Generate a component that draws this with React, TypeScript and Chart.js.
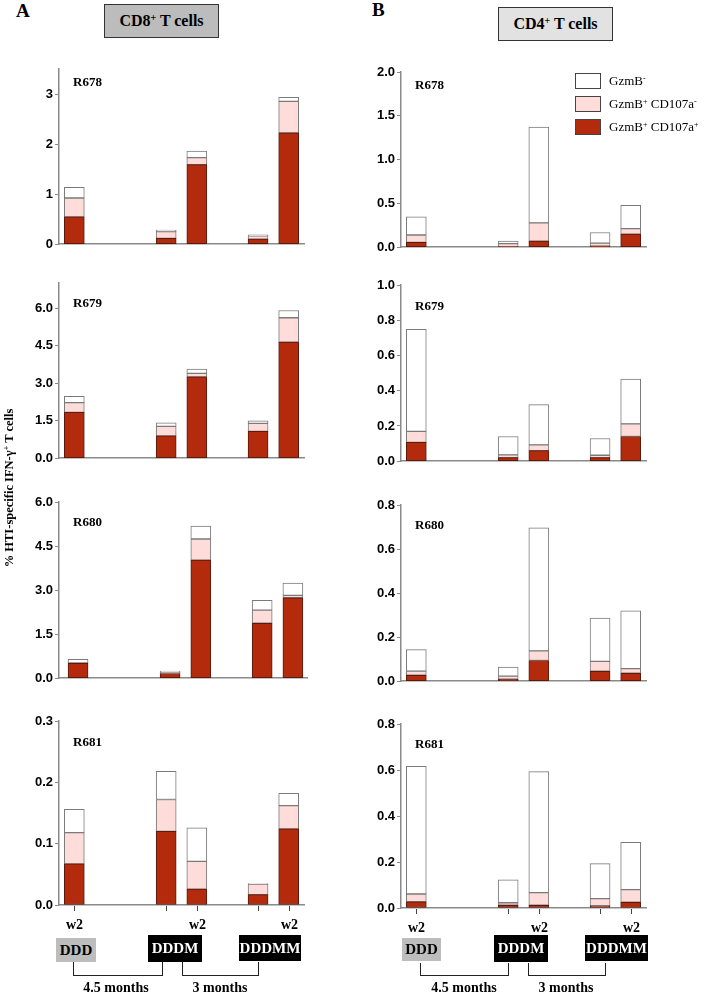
import React, { useEffect, useRef } from 'react';
import { Chart, registerables } from 'chart.js';
Chart.register(...registerables);

// ---------- data ----------
const slots = ['DDD w2', 'DDDM pre', 'DDDM w2', 'DDDMM pre', 'DDDMM w2'];
const slotX = [0, 3, 4, 6, 7];
const xTickLabels = ['w2', '', 'w2', '', 'w2'];
const seriesNames = ['GzmB+ CD107a+', 'GzmB+ CD107a-', 'GzmB-'];

// CD8+ T cells (panel A)
const cd8R678Pos = [0.545, 0.115, 1.59, 0.1, 2.224];
const cd8R678Mid = [0.378, 0.135, 0.14, 0.067, 0.629];
const cd8R678Neg = [0.212, 0.032, 0.13, 0.019, 0.083];
const cd8R679Pos = [1.83, 0.89, 3.25, 1.07, 4.64];
const cd8R679Mid = [0.39, 0.38, 0.14, 0.32, 0.97];
const cd8R679Neg = [0.25, 0.14, 0.17, 0.1, 0.29];
const cd8R680Pos = [0.51, 0.16, 4.02, 1.87, 2.74];
const cd8R680Mid = [0.02, 0.03, 0.72, 0.45, 0.08];
const cd8R680Neg = [0.11, 0.05, 0.44, 0.33, 0.42];
const cd8R681Pos = [0.067, 0.12, 0.026, 0.017, 0.124];
const cd8R681Mid = [0.051, 0.052, 0.045, 0.017, 0.038];
const cd8R681Neg = [0.038, 0.046, 0.055, 0.001, 0.02];

// CD4+ T cells (panel B)
const cd4R678Pos = [0.055, 0.005, 0.069, 0.012, 0.15];
const cd4R678Mid = [0.084, 0.035, 0.208, 0.035, 0.062];
const cd4R678Neg = [0.208, 0.03, 1.095, 0.121, 0.266];
const cd4R679Pos = [0.107, 0.02, 0.06, 0.02, 0.14];
const cd4R679Mid = [0.062, 0.016, 0.033, 0.014, 0.072];
const cd4R679Neg = [0.579, 0.104, 0.228, 0.095, 0.254];
const cd4R680Pos = [0.027, 0.009, 0.094, 0.045, 0.036];
const cd4R680Mid = [0.019, 0.014, 0.044, 0.045, 0.021];
const cd4R680Neg = [0.097, 0.041, 0.558, 0.197, 0.263];
const cd4R681Pos = [0.027, 0.012, 0.012, 0.009, 0.025];
const cd4R681Mid = [0.034, 0.011, 0.055, 0.032, 0.055];
const cd4R681Neg = [0.555, 0.1, 0.526, 0.152, 0.206];

// y tick values
const ticksCd8R678 = [0, 1, 2, 3];
const ticksCd8R679 = [0, 1.5, 3, 4.5, 6];
const ticksCd8R680 = [0, 1.5, 3, 4.5, 6];
const ticksCd8R681 = [0, 0.1, 0.2, 0.3];
const ticksCd4R678 = [0, 0.5, 1, 1.5, 2];
const ticksCd4R679 = [0, 0.2, 0.4, 0.6, 0.8, 1];
const ticksCd4R680 = [0, 0.2, 0.4, 0.6, 0.8];
const ticksCd4R681 = [0, 0.2, 0.4, 0.6, 0.8];

// ---------- styles ----------
const RED = '#b42a0c';
const RED_EDGE = '#5a1a0c';
const PINK = '#fddcda';
const WHITE = '#ffffff';
const EDGE = '#7a7a7a';
const AXIS = '#8a8a8a';
const SERIF = "'Liberation Serif', 'Times New Roman', serif";
const SANS = "'Liberation Sans', Arial, sans-serif";

type PanelSpec = {
  key: string; label: string; pos: number[]; mid: number[]; neg: number[];
  ticks: number[]; max: number; dec: number;
  left: number; right: number; top: number; bottom: number;
  xmin?: number; xmax?: number; bottomRow?: boolean; labelX: number; labelY: number;
};

const PANELS: PanelSpec[] = [
  { key: 'L1', label: 'R678', pos: cd8R678Pos, mid: cd8R678Mid, neg: cd8R678Neg, ticks: ticksCd8R678, max: 3.5, dec: 0, left: 59, right: 304, top: 69, bottom: 252, labelX: 73, labelY: 82 },
  { key: 'R1', label: 'R678', pos: cd4R678Pos, mid: cd4R678Mid, neg: cd4R678Neg, ticks: ticksCd4R678, max: 2, dec: 1, left: 401, right: 646, top: 72, bottom: 255, labelX: 415, labelY: 85 },
  { key: 'L2', label: 'R679', pos: cd8R679Pos, mid: cd8R679Mid, neg: cd8R679Neg, ticks: ticksCd8R679, max: 7, dec: 1, left: 59, right: 304, top: 283, bottom: 466, labelX: 73, labelY: 303 },
  { key: 'R2', label: 'R679', pos: cd4R679Pos, mid: cd4R679Mid, neg: cd4R679Neg, ticks: ticksCd4R679, max: 1, dec: 1, left: 401, right: 646, top: 285, bottom: 469, labelX: 415, labelY: 306 },
  { key: 'L3', label: 'R680', pos: cd8R680Pos, mid: cd8R680Mid, neg: cd8R680Neg, ticks: ticksCd8R680, max: 6, dec: 1, left: 59, right: 307, top: 502, bottom: 686, xmin: -0.62, xmax: 7.46, labelX: 73, labelY: 522 },
  { key: 'R3', label: 'R680', pos: cd4R680Pos, mid: cd4R680Mid, neg: cd4R680Neg, ticks: ticksCd4R680, max: 0.8, dec: 1, left: 401, right: 646, top: 505, bottom: 689, labelX: 415, labelY: 525 },
  { key: 'L4', label: 'R681', pos: cd8R681Pos, mid: cd8R681Mid, neg: cd8R681Neg, ticks: ticksCd8R681, max: 0.3, dec: 1, left: 59, right: 304, top: 721, bottom: 905, bottomRow: true, labelX: 73, labelY: 742 },
  { key: 'R4', label: 'R681', pos: cd4R681Pos, mid: cd4R681Mid, neg: cd4R681Neg, ticks: ticksCd4R681, max: 0.8, dec: 1, left: 401, right: 646, top: 724, bottom: 908, bottomRow: true, labelX: 415, labelY: 744 },
];

const W = 46, PT = 10, PR = 12;

function Panel({ p }: { p: PanelSpec }) {
  const ref = useRef<HTMLCanvasElement>(null);
  const XH = p.bottomRow ? 32 : 2;
  const cw = W + (p.right - p.left) + PR;
  const ch = PT + (p.bottom - p.top) + XH;
  useEffect(() => {
    const mk = (vals: number[], i: number, bg: string, edge: string) => ({
      label: seriesNames[i],
      data: slotX.map((x, k) => ({ x, y: vals[k] })),
      backgroundColor: bg,
      borderColor: edge,
      borderWidth: 1,
      borderSkipped: false as const,
      barThickness: 20,
    });
    // tick marks and "w2" labels under the bars, placed with the x scale
    const slotTicks = {
      id: 'slotTicks',
      afterDraw(chart: any) {
        if (!p.bottomRow) return;
        const { ctx } = chart;
        const xs = chart.scales.x;
        const y0 = chart.chartArea.bottom;
        ctx.save();
        ctx.strokeStyle = '#444';
        ctx.lineWidth = 1;
        slotX.forEach((v, i) => {
          const px = Math.round(xs.getPixelForValue(v)) + 0.5;
          ctx.beginPath();
          ctx.moveTo(px, y0 + 1);
          ctx.lineTo(px, y0 + 6);
          ctx.stroke();
          if (xTickLabels[i]) {
            ctx.fillStyle = '#000';
            ctx.font = `bold 14px ${SERIF}`;
            ctx.textAlign = 'center';
            ctx.textBaseline = 'middle';
            ctx.fillText(xTickLabels[i], px, y0 + 20);
          }
        });
        ctx.restore();
      },
    };
    const chart = new Chart(ref.current as HTMLCanvasElement, {
      type: 'bar',
      data: {
        labels: slots,
        datasets: [mk(p.pos, 0, RED, RED_EDGE), mk(p.mid, 1, PINK, EDGE), mk(p.neg, 2, WHITE, EDGE)] as any,
      },
      plugins: [slotTicks],
      options: {
        responsive: false,
        animation: false,
        layout: { padding: { top: PT, right: PR, left: 0, bottom: 0 } },
        plugins: { legend: { display: false }, tooltip: { enabled: false } },
        scales: {
          x: {
            type: 'linear',
            stacked: true,
            offset: false,
            min: p.xmin ?? -0.5,
            max: p.xmax ?? 7.5,
            afterFit: (s: any) => { s.height = XH; },
            ticks: { display: false },
            grid: { display: false, offset: false },
            border: { display: true, color: AXIS, width: 1.5 },
          },
          y: {
            type: 'linear',
            stacked: true,
            min: 0,
            max: p.max,
            afterFit: (s: any) => { s.width = W; },
            afterBuildTicks: (s: any) => { s.ticks = p.ticks.map((v) => ({ value: v })); },
            ticks: {
              autoSkip: false,
              padding: 2,
              color: '#000',
              font: { family: SANS, size: 13, weight: 'bold' },
              callback: (v: any) => Number(v).toFixed(p.dec),
            },
            grid: { drawOnChartArea: false, drawTicks: true, tickLength: 4, color: AXIS },
            border: { display: true, color: AXIS, width: 1.5 },
          },
        },
      } as any,
    });
    return () => chart.destroy();
  }, []);
  return (
    <canvas
      ref={ref}
      width={cw}
      height={ch}
      style={{ position: 'absolute', left: p.left - W, top: p.top - PT, width: cw, height: ch }}
    />
  );
}

const abs = (x: number, y: number, extra: React.CSSProperties = {}): React.CSSProperties => ({
  position: 'absolute', left: x, top: y, ...extra,
});

function Box({ x, y, w, h, bg, color, text }: { x: number; y: number; w: number; h: number; bg: string; color: string; text: string }) {
  return (
    <div style={abs(x, y, { width: w, height: h, background: bg, color, display: 'flex', alignItems: 'center', justifyContent: 'center', font: `bold 15px ${SERIF}`, whiteSpace: 'nowrap' })}>{text}</div>
  );
}

function Bracket({ x, y, w, h }: { x: number; y: number; w: number; h: number }) {
  return <div style={abs(x, y, { width: w, height: h, boxSizing: 'border-box', borderLeft: '1.5px solid #222', borderRight: '1.5px solid #222', borderBottom: '1.5px solid #222' })} />;
}

function CenterText({ cx, y, text }: { cx: number; y: number; text: string }) {
  return <div style={abs(cx - 60, y, { width: 120, textAlign: 'center', font: `bold 14px ${SERIF}`, lineHeight: '16px', whiteSpace: 'nowrap' })}>{text}</div>;
}

function Timeline({ ddd, dddm, dddmm, b1, b2, t1, t2 }: any) {
  return (
    <>
      <Box x={ddd[0]} y={ddd[1]} w={ddd[2]} h={ddd[3]} bg="#bdbdbd" color="#000" text="DDD" />
      <Box x={dddm[0]} y={dddm[1]} w={dddm[2]} h={dddm[3]} bg="#000" color="#fff" text="DDDM" />
      <Box x={dddmm[0]} y={dddmm[1]} w={dddmm[2]} h={dddmm[3]} bg="#000" color="#fff" text="DDDMM" />
      <Bracket x={b1[0]} y={b1[1]} w={b1[2]} h={b1[3]} />
      <Bracket x={b2[0]} y={b2[1]} w={b2[2]} h={b2[3]} />
      <CenterText cx={t1} y={980} text="4.5 months" />
      <CenterText cx={t2} y={980} text="3 months" />
    </>
  );
}

function LegendItem({ y, bg, children }: { y: number; bg: string; children: React.ReactNode }) {
  return (
    <>
      <div style={abs(575, y, { width: 26, height: 16, boxSizing: 'border-box', border: '1.5px solid #444', background: bg })} />
      <div style={abs(609, y - 1, { font: `13px ${SERIF}`, lineHeight: '18px', whiteSpace: 'nowrap' })}>{children}</div>
    </>
  );
}

const supStyle: React.CSSProperties = { fontSize: '0.62em', verticalAlign: '0.55em', lineHeight: 0 };

export default function App() {
  return (
    <div style={{ position: 'absolute', left: 0, top: 0, width: 704, height: 992, background: '#fff', overflow: 'hidden', color: '#000' }}>
      {PANELS.map((p) => <Panel key={p.key} p={p} />)}
      {PANELS.map((p) => (
        <div key={p.key + 'l'} style={abs(p.labelX, p.labelY - 8, { font: `bold 13px ${SERIF}`, lineHeight: '16px' })}>{p.label}</div>
      ))}

      {/* headers */}
      <div style={abs(16, 2, { font: `bold 19px ${SERIF}`, lineHeight: '18px' })}>A</div>
      <div style={abs(372, 1, { font: `bold 19px ${SERIF}`, lineHeight: '18px' })}>B</div>
      <div style={abs(104, 4, { width: 115, height: 34, boxSizing: 'border-box', border: '1.5px solid #333', background: '#bcbcbc', display: 'flex', alignItems: 'center', justifyContent: 'center', font: `bold 16px ${SERIF}`, whiteSpace: 'nowrap' })}>
        <span>CD8<sup style={supStyle}>+</sup> T cells</span>
      </div>
      <div style={abs(498, 7, { width: 115, height: 34, boxSizing: 'border-box', border: '1.5px solid #333', background: '#e2e2e2', display: 'flex', alignItems: 'center', justifyContent: 'center', font: `bold 16px ${SERIF}`, whiteSpace: 'nowrap' })}>
        <span>CD4<sup style={supStyle}>+</sup> T cells</span>
      </div>

      {/* legend */}
      <LegendItem y={73} bg={WHITE}>GzmB<sup style={supStyle}>-</sup></LegendItem>
      <LegendItem y={96} bg={PINK}>GzmB<sup style={supStyle}>+</sup> CD107a<sup style={supStyle}>-</sup></LegendItem>
      <LegendItem y={119} bg={RED}>GzmB<sup style={supStyle}>+</sup> CD107a<sup style={supStyle}>+</sup></LegendItem>

      {/* y title */}
      <div style={abs(9 - 110, 488 - 8, { width: 220, textAlign: 'center', font: `bold 12.5px ${SERIF}`, lineHeight: '16px', transform: 'rotate(-90deg)', whiteSpace: 'nowrap' })}>
        % HTI-specific IFN-γ<sup style={supStyle}>+</sup> T cells
      </div>

      {/* timelines */}
      <Timeline ddd={[56, 938, 40, 24]} dddm={[148, 935, 54, 27]} dddmm={[239, 935, 62, 26]} b1={[73, 962, 90, 14]} b2={[182, 962, 77, 14]} t1={116} t2={220} />
      <Timeline ddd={[402, 938, 39, 23]} dddm={[494, 935, 54, 27]} dddmm={[585, 935, 63, 26]} b1={[420, 963, 89, 13]} b2={[528, 963, 78, 13]} t1={464} t2={566} />
    </div>
  );
}
